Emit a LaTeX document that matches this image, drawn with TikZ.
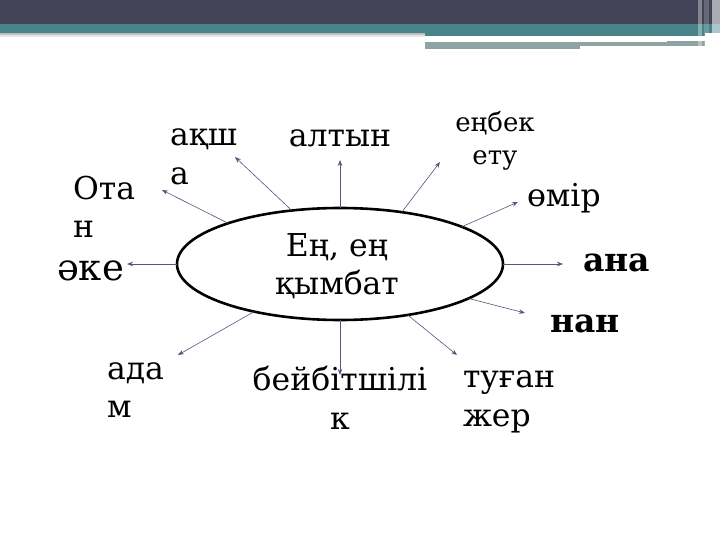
\documentclass[tikz,border=0pt]{standalone}
\usepackage{fontspec}
\setmainfont{DejaVu Serif}
\usetikzlibrary{arrows.meta,shapes.geometric}
\definecolor{hdark}{HTML}{424356}
\definecolor{hteal}{HTML}{478389}
\definecolor{hgray}{HTML}{8FA3A3}
\definecolor{arr}{HTML}{55557E}
\tikzset{
  lbl/.style={inner sep=0pt, outer sep=0pt, font=\fontsize{31.5}{38.5}\selectfont, align=left},
  lblc/.style={lbl, align=center},
  conn/.style={draw=arr, line width=0.6pt, -{Stealth[length=6pt,width=4.5pt]}},
}
\begin{document}
\begin{tikzpicture}[x=1pt,y=-1pt]
\useasboundingbox (0,0) rectangle (720,540);
\fill[white] (0,0) rectangle (720,540);
% header
\fill[hdark] (0,0) rectangle (720,24);
\fill[hteal] (0,24) rectangle (720,33);
\fill[hteal] (425,24) rectangle (705,36);
\fill[black!25] (0,33) rectangle (425,35);
\fill[black!10] (0,35) rectangle (425,37);
\fill[hgray] (425,41) rectangle (705,49);
\fill[white] (425,38) rectangle (667,42);
\fill[white] (580,46) rectangle (705,50);
\fill[white, opacity=0.35] (698,0) rectangle (702,50);
\fill[white, opacity=0.2] (704,0) rectangle (709,50);
\fill[white, opacity=0.55] (712,0) rectangle (720,50);
% centre
\node[ellipse, draw=black, line width=2.6pt, minimum width=326pt, minimum height=112pt, inner sep=0pt, outer sep=0pt] (c) at (340,264) {};
\node[lblc] (ct) at (337,266) {Ең, ең\\қымбат};
% labels
\node[lbl, anchor=west] (aqsha) at (170,157) {ақш\\а};
\node[lblc] (altyn) at (340,138) {алтын};
\node[lblc, font=\fontsize{26}{33}\selectfont] (enbek) at (495,141) {еңбек\\ету};
\node[lbl, anchor=west] (otan) at (73,207) {Ота\\н};
\node[lbl, anchor=west, font=\fontsize{37}{40}\selectfont] (ake) at (57,271) {әке};
\node[lbl, anchor=west] (omir) at (527,198) {өмір};
\node[lbl, anchor=west, font=\bfseries\fontsize{33}{38}\selectfont] (ana) at (583,263) {ана};
\node[lbl, anchor=west, font=\bfseries\fontsize{33}{38}\selectfont] (nan) at (550,324) {нан};
\node[lbl, anchor=west] (adam) at (107,390) {ада\\м};
\node[lblc] (beybit) at (340,398) {бейбітшілі\\к};
\node[lbl, anchor=west] (tugan) at (463,402) {туған\\жер};
% arrow tips
\coordinate (tAqsha) at (235,157);
\coordinate (tAltyn) at (340,160);
\coordinate (tEnbek) at (440,162);
\coordinate (tOtan) at (162,190);
\coordinate (tAke) at (127,264);
\coordinate (tOmir) at (518,202);
\coordinate (tAna) at (563,264);
\coordinate (tNan) at (525,313);
\coordinate (tTugan) at (457,355);
\coordinate (tBeybit) at (340,375);
\coordinate (tAdam) at (178,355);
% connectors
\draw[conn] (c.132.8) -- (tAqsha);
\draw[conn] (c.90) -- (tAltyn);
\draw[conn] (c.40.9) -- (tEnbek);
\draw[conn] (c.160.4) -- (tOtan);
\draw[conn] (c.180) -- (tAke);
\draw[conn] (c.17.6) -- (tOmir);
\draw[conn] (c.0) -- (tAna);
\draw[conn] (c.-15.3) -- (tNan);
\draw[conn] (c.-37.9) -- (tTugan);
\draw[conn] (c.-90) -- (tBeybit);
\draw[conn] (c.-151) -- (tAdam);
\end{tikzpicture}
\end{document}
